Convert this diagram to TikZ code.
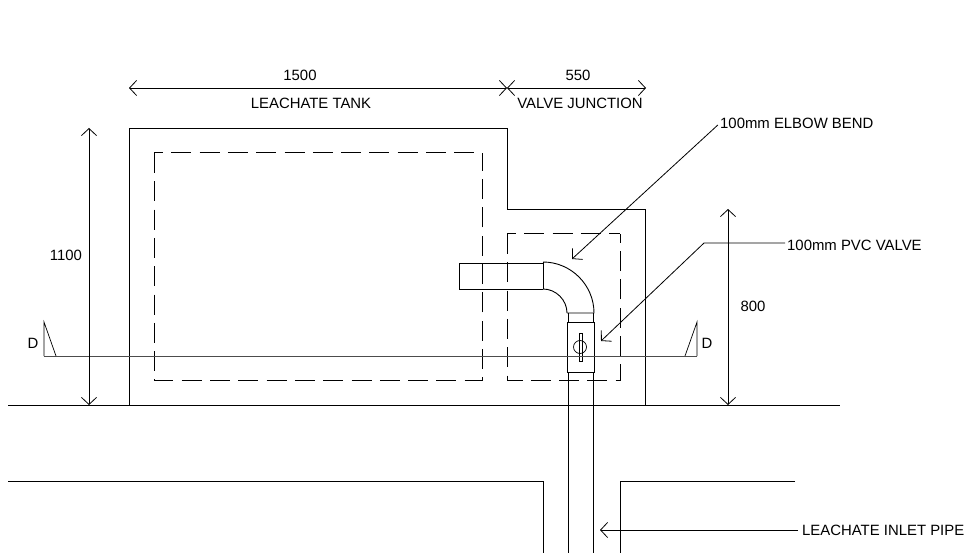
\documentclass[tikz,border=0pt]{standalone}
\usepackage{fontspec}
\setmainfont{Liberation Sans}
\usetikzlibrary{arrows.meta}
\tikzset{
	every node/.style={font=\fontsize{14.9}{16}\selectfont, inner sep=0pt},
	wall/.style={line width=0.9pt},
	hidden/.style={line width=1pt, dash pattern=on 20pt off 8.3pt},
	dimline/.style={line width=0.8pt, {Straight Barb[length=7pt,width=15pt]}-{Straight Barb[length=7pt,width=15pt]}},
	leader/.style={line width=0.8pt, -{Straight Barb[length=7pt,width=15pt]}},
	thinline/.style={line width=0.7pt},
	secline/.style={line width=0.8pt, black!70}
}

\begin{document}
\begin{tikzpicture}[x=1pt, y=-1pt]
		\useasboundingbox (0,0) rectangle (968,553);

		% outline of tank and junction
		\draw[wall] (129,405) -- (129,128) -- (507,128) -- (507,209) -- (645,209) -- (645,405);
		\draw[hidden] (154,153) -- (154,380) -- (482,380) -- (482,153);
		\draw[hidden, dash phase=11pt] (154,153) -- (482,153);
		\draw[hidden] (507,234) -- (507,380) -- (620,380) -- (620,234);
		\draw[hidden, dash phase=11pt] (507,234) -- (620,234);

		% ground and lower walls
		\draw[wall] (8,405) -- (840,405);
		\draw[wall] (8,481) -- (543,481) -- (543,553);
		\draw[wall] (795,481) -- (620,481) -- (620,553);

		% pipe and elbow
		\draw[wall] (543,263) -- (459,263) -- (459,289) -- (543,289);
		\draw[wall] (543,262) -- (543,289);
		\draw[wall] (543,262) .. controls (571,262) and (594,285) .. (594,313) -- (567,313);
		\draw[wall] (543,289) .. controls (556,289) and (567,300) .. (567,313);
		\draw[wall] (568,313) -- (568,322);
		\draw[wall] (593,313) -- (593,322);
		\draw[wall] (568,372) -- (568,553);
		\draw[wall] (593,372) -- (593,553);

		% valve
		\draw[wall] (567,322) rectangle (594,372);
		\draw[thinline] (580,347) circle (6.5);
		\draw[thinline] (579,333) rectangle (582,361);

		% section line
		\draw[secline] (44,356) -- (697,356);
		\draw[thinline] (56,356) -- (44,322) -- (44,356);
		\draw[thinline] (685,356) -- (697,322) -- (697,356);
		\node (secleft) at (33,343) {D};
		\node (secright) at (707,343) {D};

		% dimensions
		\coordinate (tankleft) at (129,88);
		\coordinate (tankright) at (507,88);
		\coordinate (juncright) at (646,88);
		\coordinate (hightop) at (89,128);
		\coordinate (highbot) at (89,405);
		\coordinate (lowtop) at (728,209);
		\coordinate (lowbot) at (728,405);
		\draw[dimline] (tankleft) -- (tankright);
		\draw[dimline] (tankright) -- (juncright);
		\draw[dimline] (hightop) -- (highbot);
		\draw[dimline] (lowtop) -- (lowbot);
		\node (dimtank) at (300,75) {1500};
		\node (nametank) at (311,103) {LEACHATE TANK};
		\node (dimjunc) at (578,75) {550};
		\node (namejunc) at (580,103) {VALVE JUNCTION};
		\node (dimhigh) at (66,255) {1100};
		\node (dimlow) at (753,306) {800};

		% leaders
		\node[anchor=west] (elbowlabel) at (720,123) {100mm ELBOW BEND};
		\node[anchor=west] (valvelabel) at (787,245) {100mm PVC VALVE};
		\node[anchor=west] (pipelabel) at (802,530) {LEACHATE INLET PIPE};
		\coordinate (elbowtip) at (572,259);
		\coordinate (valvetip) at (601,341);
		\coordinate (valvebend) at (704,243);
		\coordinate (valvestart) at (785,243);
		\coordinate (pipetip) at (600,530);
		\draw[leader, shorten <=3pt] (elbowlabel.west) -- (elbowtip);
		\draw[leader] (valvestart) -- (valvebend) -- (valvetip);
		\draw[leader, shorten <=4pt] (pipelabel.west) -- (pipetip);
	\end{tikzpicture}
\end{document}
